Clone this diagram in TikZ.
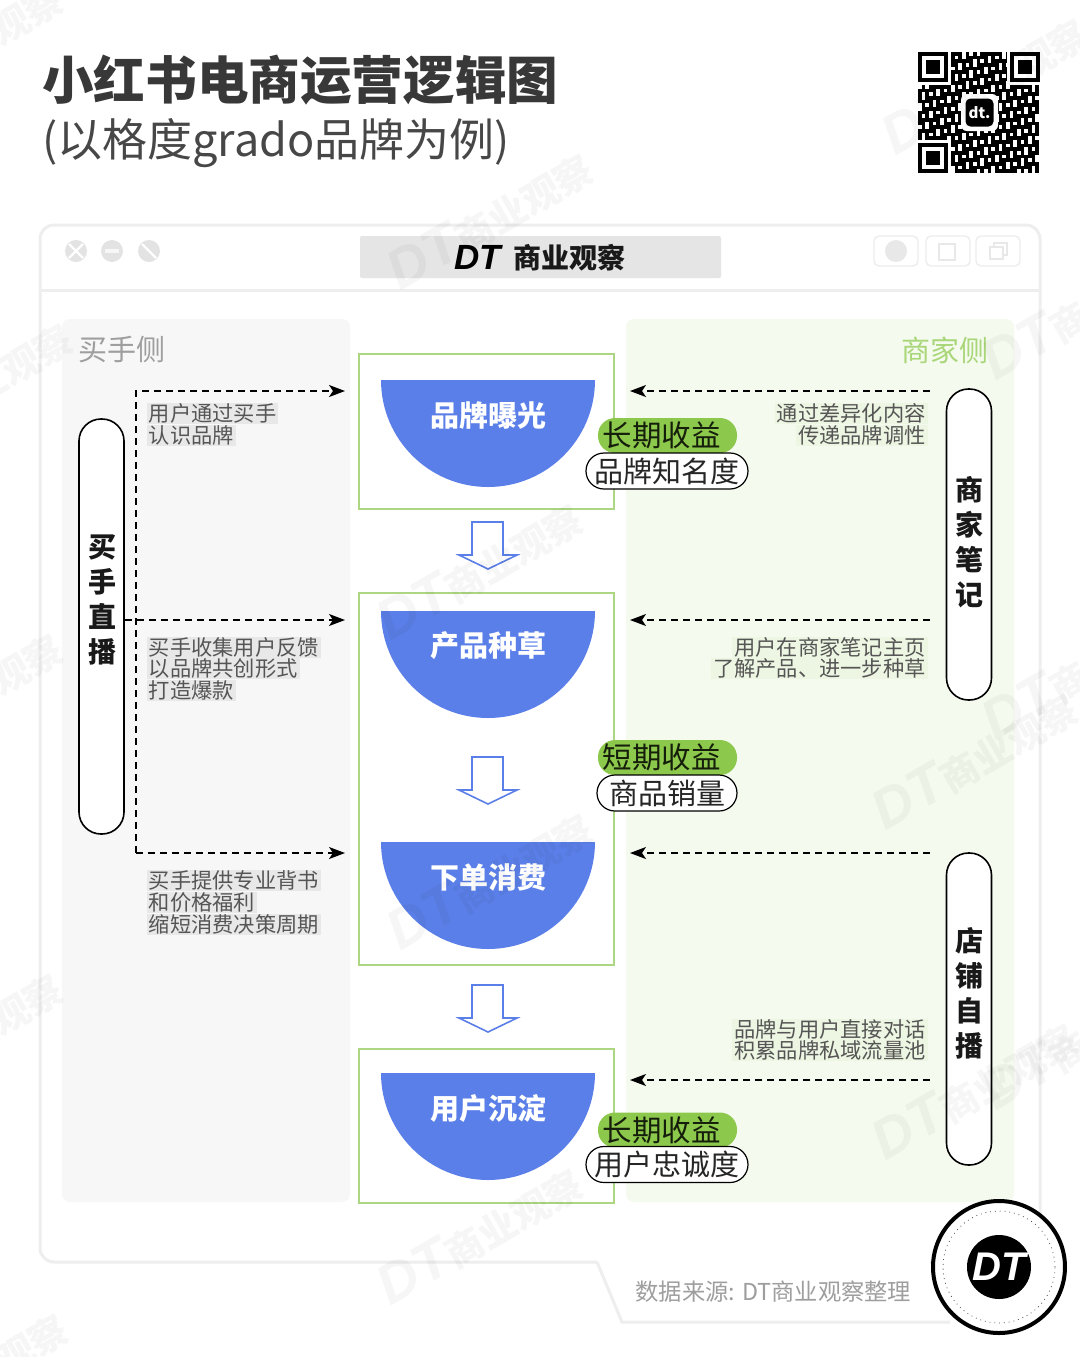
\documentclass[tikz,border=0pt]{standalone}
\usepackage{fontspec}
\setmainfont{Noto Sans CJK SC}
\newfontfamily\dtfont{Liberation Sans}
\usepackage{xcolor}
\definecolor{blue_dt}{RGB}{91,127,232}
\definecolor{green_dt}{RGB}{140,200,75}
\definecolor{frame_dt}{RGB}{172,214,130}
\definecolor{panelgrey_dt}{RGB}{247,247,247}
\definecolor{panelgreen_dt}{RGB}{244,250,238}
\definecolor{linegrey_dt}{RGB}{238,238,238}
\definecolor{textgrey_dt}{RGB}{85,85,85}
\usetikzlibrary{arrows.meta,positioning}
\newcommand{\setpx}[1]{\fontsize{\fpxval{#1}}{\fpxval{#1}}\selectfont}
\newcommand{\fpxval}[1]{\the\dimexpr#1pt/2\relax}

\begin{document}
\begin{tikzpicture}
[	x=0.5pt, y=-0.5pt,
	flow/.style = {dashed, line width=0.75pt, dash pattern=on 3.5pt off 2.5pt, -{Stealth[length=8pt,width=6pt,inset=2pt]}},
	window/.style = {draw=linegrey_dt, line width=1.5pt},
	stage/.style = {draw=frame_dt, line width=0.8pt, fill=white},
	bowl/.style = {fill=blue_dt},
	bowltext/.style = {text=white, font=\setpx{29}\bfseries, inner sep=0pt},
	hollow/.style = {draw=blue_dt, line width=0.8pt, fill=white, line join=miter},
	gain/.style = {fill=green_dt, rounded corners=8.5pt, minimum width=69.5pt, minimum height=17.5pt, inner sep=0pt, font=\setpx{29.5}, text=black!85!green_dt},
	gainsub/.style = {draw=black, line width=0.6pt, fill=white, rounded corners=9pt, minimum height=18pt, inner sep=0pt, font=\setpx{29}, text=black!85},
	pill/.style = {draw=black, line width=0.8pt, fill=white, rounded corners=11pt, minimum width=22.5pt, inner sep=0pt},
	pilltext/.style = {font=\setpx{28}\bfseries, align=center, inner sep=0pt, text=black!90},
	note/.style = {fill=black!9, text=textgrey_dt, font=\setpx{21.25}, inner xsep=1pt, inner ysep=0pt, minimum height=10.5pt},
	notegreen/.style = {note, fill=green_dt!16},
	side/.style = {font=\setpx{29}, inner sep=0pt},
	winbtn/.style = {circle, fill=black!11, minimum size=11pt, inner sep=0pt},
	topbtn/.style = {draw=black!7, line width=0.7pt, rounded corners=2.5pt, minimum width=22pt, minimum height=15pt, inner sep=0pt},
	wmark/.style = {text=black, text opacity=0.035, rotate=30, font=\setpx{38}\bfseries, inner sep=0pt},
]
\useasboundingbox (0,0) rectangle (1080,1357);
\fill[white] (0,0) rectangle (1080,1357);

% title
\node[anchor=west, inner sep=0pt, font=\setpx{51.6}\bfseries, text=black!78] (title) at (42,80) {小红书电商运营逻辑图};
\node[anchor=west, inner sep=0pt, font=\setpx{45}, text=black!72] (subtitle) at (42,143) {(以格度grado品牌为例)};

% qr code
\foreach \qi in {0,...,32}
	\foreach \qj in {0,...,32}{
		\pgfmathtruncatemacro{\qh}{mod(\qi*\qi*5+\qj*\qj*3+\qi*\qj*7+\qi*3+\qj,11)}
		\ifnum\qh<6
			\fill[black] ({918+\qi*3.67},{52+\qj*3.67}) rectangle +(3.67,3.67);
		\fi
	}
\foreach \qx/\qy in {918/52, 1010/52, 918/143}{
	\fill[white] (\qx-3,\qy-3) rectangle +(36,36);
	\fill[black] (\qx,\qy) rectangle +(30,30);
	\fill[white] (\qx+4,\qy+4) rectangle +(22,22);
	\fill[black] (\qx+8,\qy+8) rectangle +(14,14);
}
\fill[white, rounded corners=3pt] (961,94) rectangle (998,131);
\node[fill=black, rounded corners=2.5pt, minimum size=14pt, inner sep=0pt, text=white, font=\setpx{15}\bfseries] (qrlogo) at (979.5,112.5) {dt.};

% browser window
\draw[window, rounded corners=7pt] (597,1262) -- (40,1262) -- (40,225) -- (1040,225) -- (1040,1262) -- (930,1262);
\draw[window] (40,290) -- (1040,290);
\draw[window] (597,1262) -- (622,1322) -- (950,1322);
\foreach \bx [count=\bn] in {76,112,149}
	\node[winbtn] (winbtn\bn) at (\bx,251) {};
\fill[black!3] (105,249) rectangle +(14,4);
\draw[white, line width=1.2pt] (69,244) -- (83,258) (83,244) -- (69,258);
\draw[white, line width=1.2pt] (142,244) -- (156,258);
\node[fill=black!10, rounded corners=1pt, minimum width=180.5pt, minimum height=21pt, inner sep=0pt] (bar) at (540.5,257) {};
\node[anchor=west, inner sep=0pt, font=\dtfont\setpx{35}\bfseries\itshape] (barDT) at (454,257) {DT};
\node[anchor=west, inner sep=0pt, font=\setpx{28}\bfseries, text=black!90] (bartext) at (513,258) {商业观察};
\foreach \bx [count=\bn] in {896,948,998}
	\node[topbtn] (topbtn\bn) at (\bx,251) {};
\fill[black!9] (896,251) circle (11);
\draw[black!9, line width=0.8pt] (939,244) rectangle (955,260);
\draw[black!9, line width=0.8pt] (990,247) rectangle (1003,259) (994,247) -- (994,243) -- (1007,243) -- (1007,255) -- (1003,255);

% side panels
\fill[panelgrey_dt, rounded corners=4pt] (62,319) rectangle (350,1202);
\fill[panelgreen_dt, rounded corners=4pt] (626,319) rectangle (1014,1202);
\node[side, text=black!38] (buyer) at (122,350) {买手侧};
\node[side, text=green_dt!75] (seller) at (945,350) {商家侧};

% stage boxes
\draw[stage] (359,354) rectangle (614,509);
\draw[stage] (359,593) rectangle (614,965);
\draw[stage] (359,1049) rectangle (614,1203);
\foreach \sy/\ty/\slabel [count=\sn] in {380/415/品牌曝光, 611/646/产品种草, 842/877/下单消费, 1073/1108/用户沉淀}{
	\fill[bowl] (381,\sy) arc (180:0:107) -- cycle;
	\node[bowltext] (stage\sn) at (488,\ty) {\slabel};
}

% hollow arrows
\foreach \ay in {522,757,985}
	\draw[hollow] (472,\ay) -- (503,\ay) -- (503,\ay+33) -- (517,\ay+33) -- (488,\ay+47) -- (459,\ay+33) -- (472,\ay+33) -- cycle;

% gain badges
\node[gain] (gain1) at (667.5,435.5) {长期收益\kern6pt};
\node[gainsub, minimum width=81pt] (sub1) at (667,471) {品牌知名度};
\node[gain] (gain2) at (667.5,757.5) {短期收益\kern6pt};
\node[gainsub, minimum width=70pt] (sub2) at (667,793) {商品销量};
\node[gain] (gain3) at (667.5,1130) {长期收益\kern6pt};
\node[gainsub, minimum width=81pt] (sub3) at (667,1164.5) {用户忠诚度};

% pills
\node[pill, minimum height=207.5pt] (buyerlive) at (101.5,626.5) {};
\node[pilltext] (buyerlivetext) at (102,599.5) {买\\[3.5pt]手\\[3.5pt]直\\[3.5pt]播};
\node[pill, minimum height=155.5pt] (notes) at (969,544.5) {};
\node[pilltext] (notestext) at (969,542.5) {商\\[3.5pt]家\\[3.5pt]笔\\[3.5pt]记};
\node[pill, minimum height=156pt] (shoplive) at (969,1009) {};
\node[pilltext] (shoplivetext) at (969,993) {店\\[3.5pt]铺\\[3.5pt]自\\[3.5pt]播};

% coordinates for dashed lines
\coordinate (busleft) at (136,391);
\coordinate (buslow) at (136,853);
\coordinate (busmid) at (136,620);
\coordinate (inA) at (345,391);
\coordinate (inB) at (345,620);
\coordinate (inC) at (345,853);
\foreach \fy [count=\fn] in {391,620,853,1080}{
	\coordinate (outstart\fn) at (930,\fy);
	\coordinate (outend\fn) at (630,\fy);
}

% dashed arrows left
\draw[flow] (buslow) -- (busleft) -- (inA);
\draw[flow] (buslow) -- (inC);
\draw[flow] (buyerlive.east |- busmid) -- (inB);
% dashed arrows right
\foreach \fn in {1,2,3,4}
	\draw[flow] (outstart\fn) -- (outend\fn);

% notes left
\node[note, anchor=west] (nA1) at (146.5,413.5) {用户通过买手};
\node[note, anchor=west] (nA2) at (146.5,435.5) {认识品牌};
\node[note, anchor=west] (nB1) at (146.5,647) {买手收集用户反馈};
\node[note, anchor=west] (nB2) at (146.5,668.5) {以品牌共创形式};
\node[note, anchor=west] (nB3) at (146.5,690) {打造爆款};
\node[note, anchor=west] (nC1) at (146.5,880.5) {买手提供专业背书};
\node[note, anchor=west] (nC2) at (146.5,902) {和价格福利};
\node[note, anchor=west] (nC3) at (146.5,924) {缩短消费决策周期};
% notes right
\node[notegreen, anchor=east] (nD1) at (928,413.5) {通过差异化内容};
\node[notegreen, anchor=east] (nD2) at (928,435.5) {传递品牌调性};
\node[notegreen, anchor=east] (nE1) at (928,647) {用户在商家笔记主页};
\node[notegreen, anchor=east] (nE2) at (928,668.5) {了解产品、进一步种草};
\node[notegreen, anchor=east] (nF1) at (928,1029) {品牌与用户直接对话};
\node[notegreen, anchor=east] (nF2) at (928,1050) {积累品牌私域流量池};

% source and logo
\node[anchor=west, inner sep=0pt, font=\setpx{23.3}, text=black!38] (source) at (635,1292) {数据来源: DT商业观察整理};
\node[circle, draw=black, line width=2pt, fill=white, minimum size=66pt, inner sep=0pt] (logo) at (999,1267) {};
\node[circle, draw=black!70, dotted, line width=0.4pt, minimum size=56pt, inner sep=0pt] (logoring) at (999,1267) {};
\node[circle, fill=black, minimum size=32pt, inner sep=0pt, text=white, font=\dtfont\setpx{40}\bfseries\itshape] (logoDT) at (999,1267) {DT};

% watermarks
\foreach \wx/\wy [count=\wn] in {-40/50, 490/220, 985/85, -30/390, 1085/310, 480/570, -40/700, 975/760, 1085/670, 490/880, -40/1040, 975/1090, 1085/1040, 480/1235, -35/1380}
	\node[wmark] (mark\wn) at (\wx,\wy) {{\dtfont\itshape\setpx{56}DT}商业观察};
\end{tikzpicture}
\end{document}
